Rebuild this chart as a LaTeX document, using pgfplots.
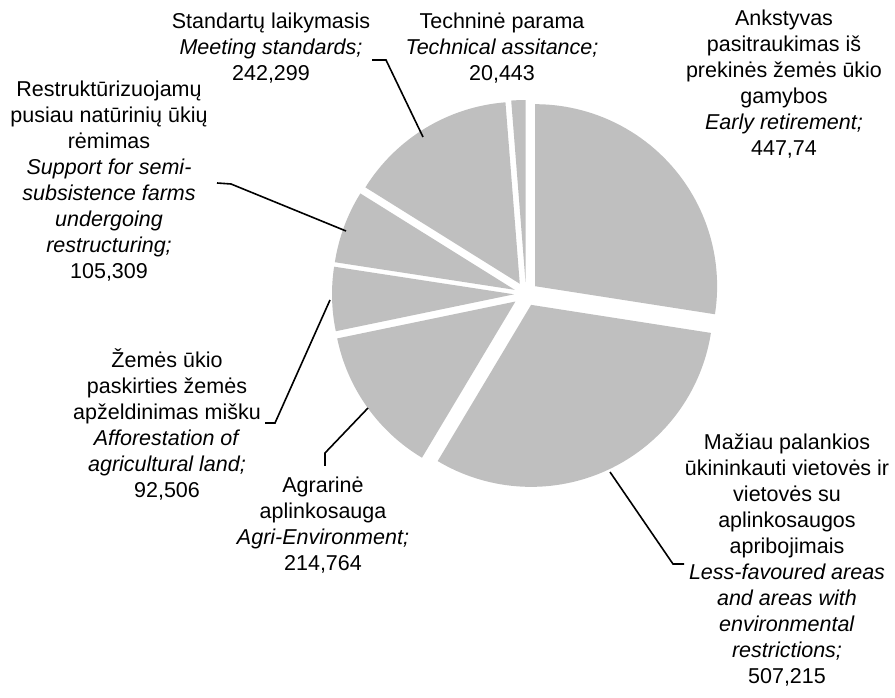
\documentclass[border=0pt]{standalone}
\usepackage{pgfplots}
\pgfplotsset{compat=1.18}
\usepackage{pgfplotstable}
\usepackage{fontspec}
\setmainfont{Liberation Sans}
\definecolor{piegray}{RGB}{191,191,191}

\pgfplotstableread[col sep=comma]{
value,explode
447.74,12
507.215,12
214.764,13
92.506,12
105.309,12
242.299,12
20.443,12
}\piedata

\def\pietotal{0}
\pgfplotstableforeachcolumnelement{value}\of\piedata\as\v{%
  \pgfmathparse{\pietotal+\v}\xdef\pietotal{\pgfmathresult}}

\begin{document}
\begin{tikzpicture}
\begin{axis}[
  scale only axis, width=895pt, height=697pt,
  xmin=0, xmax=895, ymin=-697, ymax=0,
  hide axis, clip=false,
]
\def\cum{90}
\pgfplotsforeachungrouped \i in {0,...,6}{%
  \pgfplotstablegetelem{\i}{value}\of\piedata \let\v\pgfplotsretval
  \pgfplotstablegetelem{\i}{explode}\of\piedata \let\ex\pgfplotsretval
  \pgfmathsetmacro\sweep{\v/\pietotal*360}%
  \pgfmathsetmacro\aend{\cum-\sweep}%
  \pgfmathsetmacro\amid{\cum-\sweep/2}%
  \edef\cmd{\noexpand\fill[piegray] (axis cs:526,-294) ++(\amid:\ex pt) -- ++(\cum:182pt) arc[start angle=\cum, end angle=\aend, radius=182pt] -- cycle;}%
  \cmd
  \xdef\cum{\aend}%
}

\tikzset{lbl/.style={align=center, text=black, font=\fontsize{21.5}{26}\selectfont, inner sep=0pt}}
\tikzset{ldr/.style={draw=black, line width=1.6pt}}

\draw[ldr] (axis cs:372,-60) -- (axis cs:386,-60) -- (axis cs:423,-137);
\draw[ldr] (axis cs:217,-183) -- (axis cs:231,-184) -- (axis cs:346,-231);
\draw[ldr] (axis cs:265,-423) -- (axis cs:275,-423) -- (axis cs:330,-300);
\draw[ldr] (axis cs:325,-466) -- (axis cs:325,-453) -- (axis cs:368,-408);
\draw[ldr] (axis cs:610,-472) -- (axis cs:673,-564) -- (axis cs:684,-564);

\node[lbl] at (axis cs:271,-48) {Standartų laikymasis\\\textit{Meeting standards;}\\242,299};
\node[lbl] at (axis cs:502,-48) {Techninė parama\\\textit{Technical assitance;}\\20,443};
\node[lbl] at (axis cs:784,-84) {Ankstyvas\\pasitraukimas iš\\prekinės žemės ūkio\\gamybos\\\textit{Early retirement;}\\447,74};
\node[lbl] at (axis cs:109,-181) {Restruktūrizuojamų\\pusiau natūrinių ūkių\\rėmimas\\\textit{Support for semi-}\\\textit{subsistence farms}\\\textit{undergoing}\\\textit{restructuring;}\\105,309};
\node[lbl] at (axis cs:167,-424) {Žemės ūkio\\paskirties žemės\\apželdinimas mišku\\\textit{Afforestation of}\\\textit{agricultural land;}\\92,506};
\node[lbl] at (axis cs:323,-525) {Agrarinė\\aplinkosauga\\\textit{Agri-Environment;}\\214,764};
\node[lbl] at (axis cs:787,-560) {Mažiau palankios\\ūkininkauti vietovės ir\\vietovės su\\aplinkosaugos\\apribojimais\\\textit{Less-favoured areas}\\\textit{and areas with}\\\textit{environmental}\\\textit{restrictions;}\\507,215};
\end{axis}
\pgfresetboundingbox
\path[use as bounding box] (current axis.south west) rectangle (current axis.north east);
\end{tikzpicture}
\end{document}
